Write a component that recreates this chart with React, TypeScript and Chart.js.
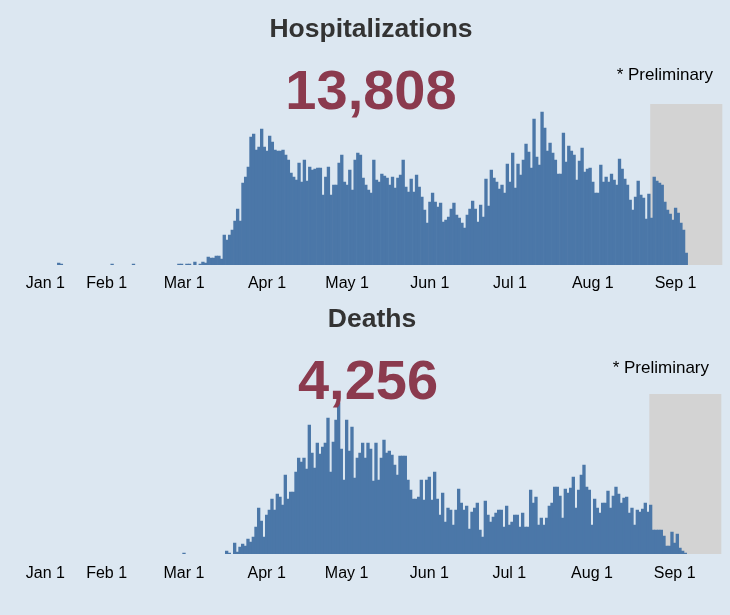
import React, { useEffect, useRef } from "react";
import { Chart, registerables } from "chart.js";

Chart.register(...registerables);

// ---- data -------------------------------------------------------------
const MONTHS = ["Jan", "Feb", "Mar", "Apr", "May", "Jun", "Jul", "Aug", "Sep", "Oct", "Nov", "Dec"];
const DAY_COUNT = 262; // Jan 1 .. Sep 18, 2020
const dayLabels: string[] = Array.from({ length: DAY_COUNT }, (_, i) => {
  const d = new Date(2020, 0, 1 + i);
  return `${MONTHS[d.getMonth()]} ${d.getDate()}`;
});

const tickLabels = ["Jan 1", "Feb 1", "Mar 1", "Apr 1", "May 1", "Jun 1", "Jul 1", "Aug 1", "Sep 1"];
// day index under which each label sits (Jan 1 label is nudged right, as in the source)
const tickDays = [8, 31, 60, 91, 121, 152, 182, 213, 244];

const prelimStartDay = 235; // Aug 23: preliminary data begins

const hospTotal = "13,808";
const deathTotal = "4,256";

const hospitalizations = [
  0, 0, 0, 0, 0, 0, 0, 0, 0, 0,
  0, 0, 0, 2, 1, 0, 0, 0, 0, 0,
  0, 0, 0, 0, 0, 0, 0, 0, 0, 0,
  0, 0, 0, 1, 0, 0, 0, 0, 0, 0,
  0, 1, 0, 0, 0, 0, 0, 0, 0, 0,
  0, 0, 0, 0, 0, 0, 0, 0, 1, 1,
  0, 1, 1, 0, 3, 0, 1, 3, 2, 8,
  7, 7, 9, 9, 6, 30, 25, 30, 35, 44,
  56, 44, 82, 88, 98, 128, 131, 115, 118, 136,
  118, 114, 129, 123, 115, 114, 114, 115, 110, 105,
  92, 88, 85, 102, 83, 105, 84, 98, 95, 96,
  97, 97, 70, 88, 98, 70, 80, 80, 102, 110,
  83, 80, 95, 75, 105, 112, 110, 87, 80, 75,
  72, 105, 85, 83, 91, 89, 87, 80, 88, 77,
  87, 90, 105, 78, 73, 86, 73, 90, 78, 68,
  55, 42, 63, 72, 63, 58, 62, 43, 45, 48,
  56, 62, 50, 47, 42, 37, 50, 56, 64, 56,
  43, 60, 48, 86, 59, 95, 87, 83, 76, 80,
  72, 101, 83, 112, 77, 101, 90, 105, 121, 113,
  97, 146, 108, 100, 153, 137, 114, 122, 112, 105,
  91, 91, 132, 103, 119, 114, 110, 85, 104, 117,
  93, 96, 97, 83, 72, 72, 100, 83, 88, 83,
  91, 85, 80, 106, 96, 86, 80, 65, 55, 68,
  84, 70, 67, 46, 71, 47, 88, 84, 82, 80,
  63, 55, 51, 45, 57, 52, 42, 35, 12, 0,
  0, 0, 0, 0, 0, 0, 0, 0, 0, 0,
  0, 0,
];

const deaths = [
  0, 0, 0, 0, 0, 0, 0, 0, 0, 0,
  0, 0, 0, 0, 0, 0, 0, 0, 0, 0,
  0, 0, 0, 0, 0, 0, 0, 0, 0, 0,
  0, 0, 0, 0, 0, 0, 0, 0, 0, 0,
  0, 0, 0, 0, 0, 0, 0, 0, 0, 0,
  0, 0, 0, 0, 0, 0, 0, 0, 0, 0,
  1, 0, 0, 0, 0, 0, 0, 0, 0, 0,
  0, 0, 0, 0, 0, 0, 3, 1, 0, 11,
  2, 7, 10, 8, 15, 12, 17, 27, 46, 33,
  17, 39, 44, 55, 44, 60, 57, 49, 79, 55,
  62, 62, 82, 96, 92, 96, 85, 129, 101, 86,
  111, 100, 107, 111, 136, 82, 112, 134, 151, 105,
  74, 134, 103, 127, 76, 96, 101, 111, 96, 111,
  105, 73, 111, 74, 96, 114, 101, 103, 99, 89,
  79, 98, 98, 98, 74, 64, 55, 55, 57, 74,
  54, 74, 77, 54, 82, 55, 39, 61, 32, 46,
  44, 29, 44, 65, 51, 44, 48, 25, 42, 46,
  51, 24, 17, 53, 39, 32, 37, 41, 44, 44,
  27, 48, 29, 32, 39, 39, 27, 41, 27, 27,
  64, 51, 57, 29, 36, 29, 36, 48, 51, 67,
  67, 58, 36, 65, 61, 66, 77, 46, 64, 79,
  89, 67, 64, 29, 55, 46, 41, 51, 51, 63,
  46, 58, 67, 60, 51, 56, 57, 41, 46, 29,
  44, 42, 45, 51, 42, 49, 24, 24, 24, 24,
  18, 8, 8, 22, 11, 20, 6, 3, 1, 0,
  0, 0, 0, 0, 0, 0, 0, 0, 0, 0,
  0, 0,
];

// ---- styles -----------------------------------------------------------
const BG = "#dce7f1";
const BAR = "#4b77a8";
const PRELIM_BG = "#d3d3d3";
const TOTAL_COLOR = "#8b3a4e";
const TITLE_COLOR = "#333333";
const FONT = "'Liberation Sans', Arial, Helvetica, sans-serif";

type PanelCfg = {
  title: string;
  total: string;
  values: number[];
  yMax: number;
  width: number;
  height: number;
  padTop: number;
  padBottom: number;
  tickPad: number;
  titleX: number;
  titleY: number;
  totalX: number;
  totalY: number;
  prelimRight: number;
  prelimY: number;
};

function makeOverlay(cfg: PanelCfg) {
  return {
    id: "overlay",
    beforeDatasetsDraw(chart: any) {
      const { ctx, chartArea, scales } = chart;
      const x = scales.x;
      const half = (x.getPixelForValue(1) - x.getPixelForValue(0)) / 2;
      const left = x.getPixelForValue(prelimStartDay) - half;
      ctx.save();
      ctx.fillStyle = PRELIM_BG;
      ctx.fillRect(left, chartArea.top, chartArea.right - left, chartArea.bottom - chartArea.top);
      ctx.restore();
    },
    afterDraw(chart: any) {
      const { ctx } = chart;
      ctx.save();
      ctx.textBaseline = "alphabetic";
      ctx.textAlign = "center";
      ctx.fillStyle = TITLE_COLOR;
      ctx.font = `bold 26.5px ${FONT}`;
      ctx.fillText(cfg.title, cfg.titleX, cfg.titleY);
      ctx.fillStyle = TOTAL_COLOR;
      ctx.font = `bold 56px ${FONT}`;
      ctx.fillText(cfg.total, cfg.totalX, cfg.totalY);
      ctx.textAlign = "right";
      ctx.fillStyle = "#000000";
      ctx.font = `17px ${FONT}`;
      ctx.fillText("* Preliminary", cfg.prelimRight, cfg.prelimY);
      ctx.restore();
    },
  };
}

function buildChart(canvas: HTMLCanvasElement, cfg: PanelCfg) {
  return new Chart(canvas, {
    type: "bar",
    data: {
      labels: dayLabels,
      datasets: [
        {
          // days with no cases draw no bar at all
          data: cfg.values.map((v) => (v === 0 ? null : v)),
          backgroundColor: BAR,
          borderWidth: 0,
          barPercentage: 1,
          categoryPercentage: 1,
        },
      ],
    },
    options: {
      responsive: false,
      animation: false,
      devicePixelRatio: 1,
      layout: {
        padding: { left: 22.66, right: 7, top: cfg.padTop, bottom: cfg.padBottom },
      },
      plugins: {
        legend: { display: false },
        tooltip: { enabled: false },
        title: { display: false },
      },
      scales: {
        x: {
          type: "category",
          grid: { display: false, drawTicks: false },
          border: { display: false },
          afterFit: (scale: any) => {
            scale.height = 35;
          },
          ticks: {
            autoSkip: false,
            maxRotation: 0,
            minRotation: 0,
            padding: cfg.tickPad,
            color: "#000000",
            font: { size: 16, family: FONT },
            callback: (_v: any, idx: number) => {
              const k = tickDays.indexOf(idx);
              return k >= 0 ? tickLabels[k] : "";
            },
          },
        },
        y: {
          display: false,
          min: 0,
          max: cfg.yMax,
        },
      },
    },
    plugins: [makeOverlay(cfg)],
  } as any);
}

const hospCfg: PanelCfg = {
  title: "Hospitalizations",
  total: hospTotal,
  values: hospitalizations,
  yMax: 161,
  width: 730,
  height: 300,
  padTop: 104,
  padBottom: 0,
  tickPad: 9,
  titleX: 371,
  titleY: 37,
  totalX: 371,
  totalY: 109,
  prelimRight: 713,
  prelimY: 80,
};

const deathCfg: PanelCfg = {
  title: "Deaths",
  total: deathTotal,
  values: deaths,
  yMax: 160,
  width: 730,
  height: 315,
  padTop: 94,
  padBottom: 26,
  tickPad: 10,
  titleX: 372,
  titleY: 27,
  totalX: 368,
  totalY: 99,
  prelimRight: 709,
  prelimY: 73,
};

export default function App() {
  const hospRef = useRef<HTMLCanvasElement>(null);
  const deathRef = useRef<HTMLCanvasElement>(null);

  useEffect(() => {
    document.body.style.margin = "0";
    const a = buildChart(hospRef.current!, hospCfg);
    const b = buildChart(deathRef.current!, deathCfg);
    return () => {
      a.destroy();
      b.destroy();
    };
  }, []);

  return (
    <div style={{ position: "fixed", left: 0, top: 0, width: 730, height: 615, background: BG, overflow: "hidden" }}>
      <canvas
        ref={hospRef}
        width={hospCfg.width}
        height={hospCfg.height}
        style={{ position: "absolute", left: 0, top: 0, width: hospCfg.width, height: hospCfg.height }}
      />
      <canvas
        ref={deathRef}
        width={deathCfg.width}
        height={deathCfg.height}
        style={{ position: "absolute", left: 0, top: 300, width: deathCfg.width, height: deathCfg.height }}
      />
    </div>
  );
}
